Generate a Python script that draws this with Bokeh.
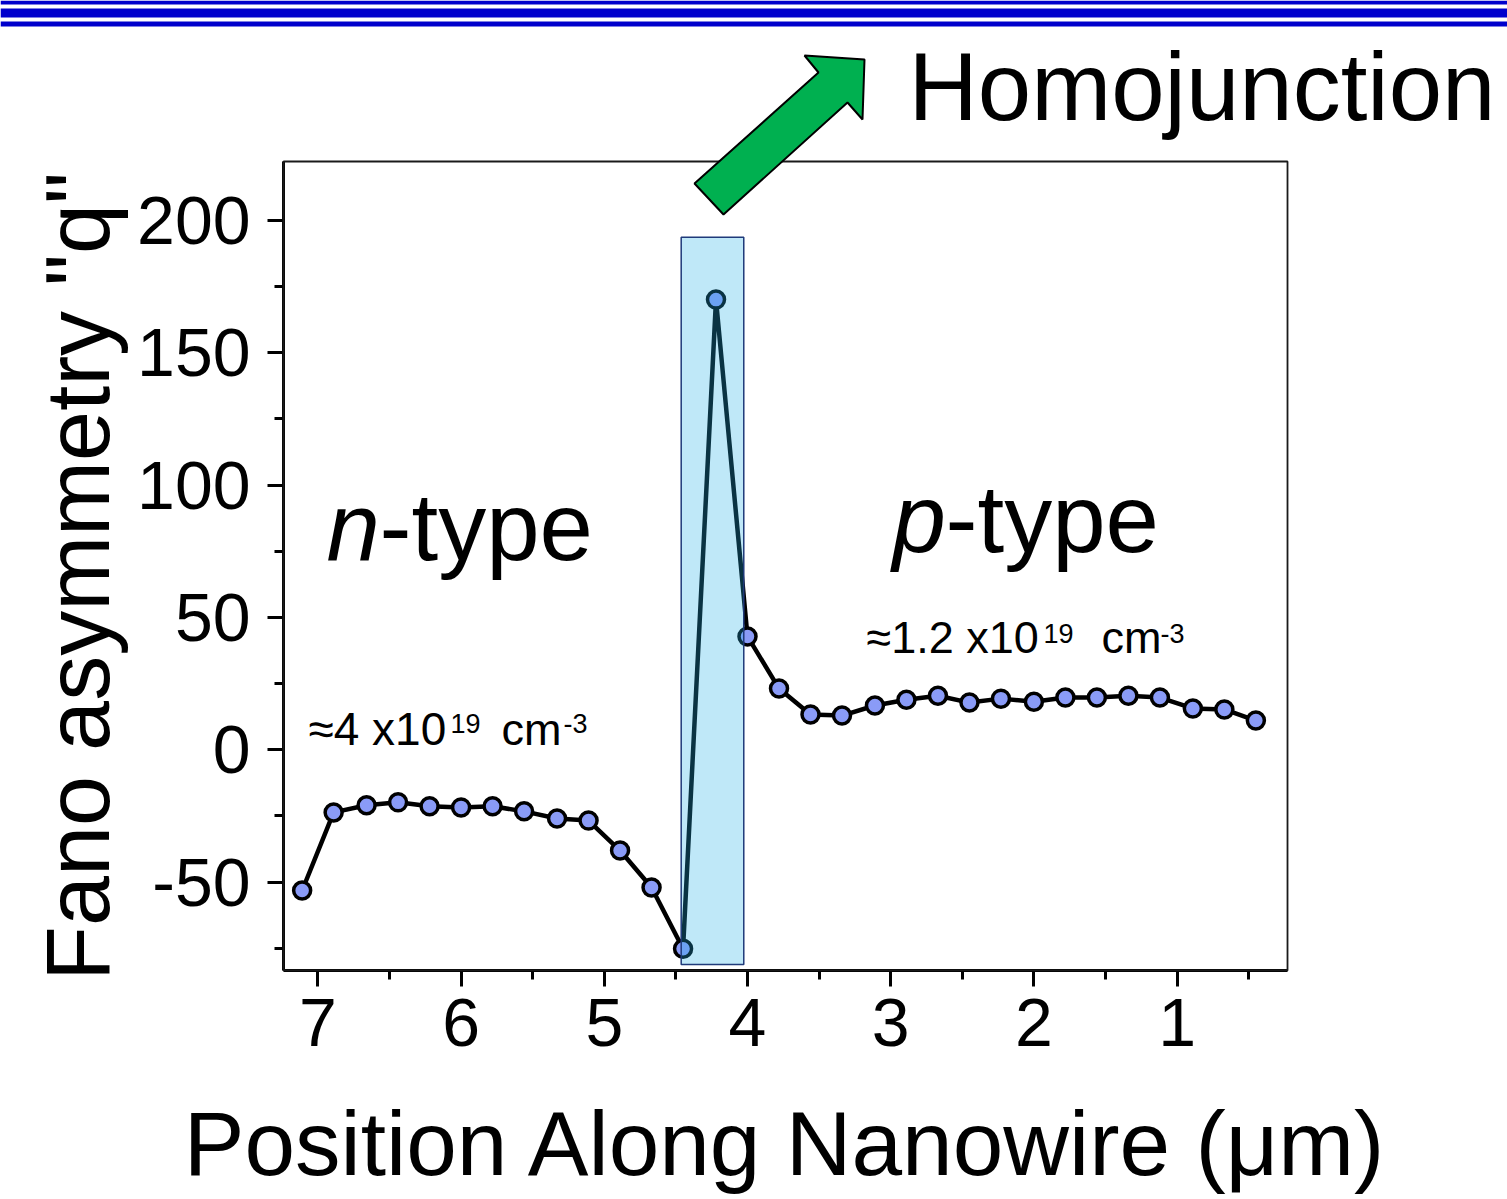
import math
from bokeh.plotting import figure
from bokeh.models import Range1d, FixedTicker, Label, PolyAnnotation, BoxAnnotation
from bokeh.embed import file_html
from bokeh.resources import INLINE

# ---- data ----
position_um = [7.11, 6.89, 6.66, 6.44, 6.22, 6.00, 5.78, 5.56, 5.33, 5.11,
               4.89, 4.67, 4.45, 4.22, 4.00, 3.78, 3.56, 3.34, 3.11, 2.89,
               2.67, 2.45, 2.23, 2.00, 1.78, 1.56, 1.34, 1.12, 0.89, 0.67, 0.45]
fano_q = [-53.2, -23.7, -21.0, -19.9, -21.4, -21.8, -21.4, -23.3, -26.0, -26.8,
          -38.1, -52.1, -75.2, 170.1, 42.8, 23.1, 13.3, 12.9, 16.7, 18.9,
          20.4, 17.8, 19.3, 18.1, 19.7, 19.7, 20.4, 19.7, 15.6, 15.2, 11.0]
junction_x = [4.463, 4.026]
junction_y = [-81.2, 193.7]
x_ticks = [1, 2, 3, 4, 5, 6, 7]
x_minor = [0.5, 1.5, 2.5, 3.5, 4.5, 5.5, 6.5]
y_ticks = [-50, 0, 50, 100, 150, 200]
y_minor = [-75, -25, 25, 75, 125, 175]
x_range_lim = (7.24, 0.229)
y_range_lim = (-83.4, 222.3)

FONT = "Liberation Sans"
W, H = 1507, 1199

# pixel -> data helpers (frame spans the whole canvas)
def X(px):
    return 4 - (px - 747) / 143.2

def Y(py):
    return 200 - (py - 220) / 2.646

p = figure(width=W, height=H,
           x_range=Range1d(X(0), X(W)), y_range=Range1d(Y(H), Y(0)),
           output_backend="svg", toolbar_location=None,
           min_border=0, min_border_left=0, min_border_right=0,
           min_border_top=0, min_border_bottom=0)
p.grid.visible = False
p.background_fill_color = "white"
p.border_fill_color = "white"
p.outline_line_color = None

xa = p.xaxis[0]
ya = p.yaxis[0]
xa.fixed_location = y_range_lim[0]
ya.fixed_location = x_range_lim[0]
xa.bounds = (min(x_range_lim), max(x_range_lim))
ya.bounds = (min(y_range_lim), max(y_range_lim))
xa.ticker = FixedTicker(ticks=x_ticks, minor_ticks=x_minor)
ya.ticker = FixedTicker(ticks=y_ticks, minor_ticks=y_minor)
ya.major_label_overrides = {t: str(t) for t in y_ticks}
for ax in (xa, ya):
    ax.axis_line_width = 3
    ax.axis_line_color = "black"
    ax.major_tick_line_width = 3
    ax.major_tick_line_color = "black"
    ax.major_tick_out = 16
    ax.major_tick_in = 0
    ax.minor_tick_line_width = 3
    ax.minor_tick_line_color = "black"
    ax.minor_tick_out = 9
    ax.minor_tick_in = 0
    ax.major_label_text_font = FONT
    ax.major_label_text_font_size = "68px"
    ax.major_label_text_color = "black"
ya.major_label_standoff = 17
xa.major_label_standoff = 13

# plot box (top / right edges)
p.add_layout(BoxAnnotation(left=x_range_lim[0], right=x_range_lim[1],
                           bottom=y_range_lim[0], top=y_range_lim[1],
                           fill_alpha=0, line_color="#1a1a1a", line_alpha=1.0,
                           line_width=1.8))

# data
p.line(position_um, fano_q, line_color="black", line_width=4.5)
p.scatter(position_um, fano_q, size=17, fill_color="#8a9bf7",
          line_color="black", line_width=3.5)

# junction box overlay
p.quad(left=[junction_x[0]], right=[junction_x[1]],
       bottom=[junction_y[0]], top=[junction_y[1]],
       fill_color="#23afe7", fill_alpha=0.29,
       line_color="#1f3a7a", line_width=1.5)

# top stripes
for top, bot in ((0, 4), (8, 17), (21, 26)):
    p.add_layout(BoxAnnotation(left=X(0), right=X(W), top=Y(top), bottom=Y(bot),
                               fill_color="#0000cc", fill_alpha=1.0,
                               line_alpha=0))

# arrow
arrow_px = [(694, 183), (818, 72), (804, 55), (864, 59), (862, 119), (847, 102), (723, 214)]
p.add_layout(PolyAnnotation(xs=[X(a) for a, b in arrow_px], ys=[Y(b) for a, b in arrow_px],
                            fill_color="#00b050", fill_alpha=1.0,
                            line_color="black", line_alpha=1.0, line_width=2))

SHIFT = 0.35  # baseline correction (fraction of font size)

def lab(text, px, py, size, style="normal", align="left", angle=0.0):
    if angle:
        ax_, ay_ = px - SHIFT * size, py
    else:
        ax_, ay_ = px, py - SHIFT * size
    p.add_layout(Label(x=X(ax_), y=Y(ay_), text=text, text_font=FONT,
                       text_font_size=f"{size}px", text_font_style=style,
                       text_color="black", text_align=align,
                       text_baseline="alphabetic", angle=angle))

# axis titles
lab("Position Along Nanowire (μm)", 786, 1175, 91, align="center")
lab('Fano asymmetry "q"', 109, 576, 90, align="center", angle=math.pi / 2)

lab("Homojunction", 908, 120, 96)
lab("n", 326, 560, 96, "italic")
lab("-type", 379, 560, 96)
lab("p", 892, 552, 96, "italic")
lab("-type", 945, 552, 96)

lab("≈4 x10", 308, 745, 46)
lab("19", 450, 732, 27)
lab("cm", 501, 745, 45)
lab("-3", 563, 732, 27)

lab("≈1.2 x10", 866, 653, 45)
lab("19", 1043, 642, 27)
lab("cm", 1101, 653, 45)
lab("-3", 1160, 642, 27)

open("out.html", "w").write(file_html(p, INLINE))
